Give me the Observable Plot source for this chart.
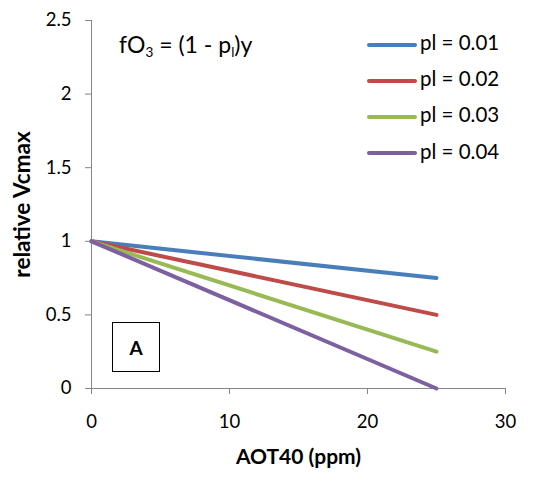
<!DOCTYPE html>
<html>
<head>
<meta charset="utf-8">
<script src="https://cdn.jsdelivr.net/npm/d3@7"></script>
<script src="https://cdn.jsdelivr.net/npm/@observablehq/plot@0.6"></script>
<style>
  body { margin: 0; background: #fff; }
  #wrap { position: relative; width: 538px; height: 477px; font-family: Lato, "Open Sans", sans-serif; color: #000; }
  #wrap svg { position: absolute; left: 0; top: 0; }
  .legend { position: absolute; left: 367px; top: 30px; font-size: 20.5px; }
  .legend .item { position: relative; height: 36.2px; line-height: 24px; white-space: nowrap; }
  .legend .sw { display: inline-block; width: 50px; height: 4px; border-radius: 2px; vertical-align: middle; margin-right: 3px; }
  .formula { position: absolute; left: 119px; top: 31px; font-size: 23px; line-height: 27px; white-space: nowrap; }
  .formula sub { font-size: 13.5px; vertical-align: -4px; line-height: 0; }
  .boxA { position: absolute; left: 112px; top: 322px; width: 46px; height: 48px; border: 1.5px solid #000; font-weight: bold; font-size: 19px; display: flex; align-items: center; justify-content: center; }
</style>
</head>
<body>
<div id="wrap"></div>
<script>
const seriesNames = ["pl = 0.01", "pl = 0.02", "pl = 0.03", "pl = 0.04"];
const colors = ["#4A7EBB", "#BE4B48", "#98B954", "#7D60A0"];
const xStart = [0, 0, 0, 0];
const xEnd = [25, 25, 25, 25];
const yStart = [1, 1, 1, 1];
const yEnd = [0.75, 0.5, 0.25, 0];
const xTicks = [0, 10, 20, 30];
const yTicks = [0, 0.5, 1, 1.5, 2, 2.5];

const data = [];
seriesNames.forEach((s, i) => {
  data.push({series: s, x: xStart[i], y: yStart[i]});
  data.push({series: s, x: xEnd[i], y: yEnd[i]});
});

const axisColor = "#868686";
const chart = Plot.plot({
  width: 538,
  height: 477,
  marginLeft: 91,
  marginRight: 33,
  marginTop: 20,
  marginBottom: 89,
  style: { fontFamily: "Lato, 'Open Sans', sans-serif", fontSize: "18px", color: "#000", background: "#fff" },
  x: { domain: [0, 30] },
  y: { domain: [0, 2.5] },
  color: { domain: seriesNames, range: colors },
  marks: [
    Plot.ruleX([0], { stroke: axisColor, strokeWidth: 1 }),
    Plot.ruleY([0], { stroke: axisColor, strokeWidth: 1 }),
    Plot.axisX({ ticks: xTicks, tickSize: 6, tickPadding: 20, stroke: axisColor, fill: "#000", label: null, fontSize: 18.5, tickFormat: d => String(d) }),
    Plot.axisY({ ticks: yTicks, tickSize: 6, tickPadding: 14, stroke: axisColor, fill: "#000", label: null, fontSize: 18.5, tickFormat: d => String(d) }),
    Plot.text(["AOT40 (ppm)"], { frameAnchor: "bottom", dy: 75, fontWeight: "bold", fontSize: 21, fill: "#000" }),
    Plot.text(["relative Vcmax"], { frameAnchor: "left", dx: -69, rotate: -90, textAnchor: "middle", fontWeight: "bold", fontSize: 22.5, fill: "#000" }),
    Plot.line(data, { x: "x", y: "y", z: "series", stroke: "series", strokeWidth: 4 })
  ]
});

const wrap = document.getElementById("wrap");
wrap.appendChild(chart);

const formula = document.createElement("div");
formula.className = "formula";
formula.innerHTML = "fO<sub>3</sub> = (1 - p<sub>l</sub>)y";
wrap.appendChild(formula);

const legend = document.createElement("div");
legend.className = "legend";
seriesNames.forEach((s, i) => {
  const it = document.createElement("div");
  it.className = "item";
  it.innerHTML = `<span class="sw" style="background:${colors[i]}"></span>${s}`;
  legend.appendChild(it);
});
wrap.appendChild(legend);

const box = document.createElement("div");
box.className = "boxA";
box.textContent = "A";
wrap.appendChild(box);
</script>
</body>
</html>
